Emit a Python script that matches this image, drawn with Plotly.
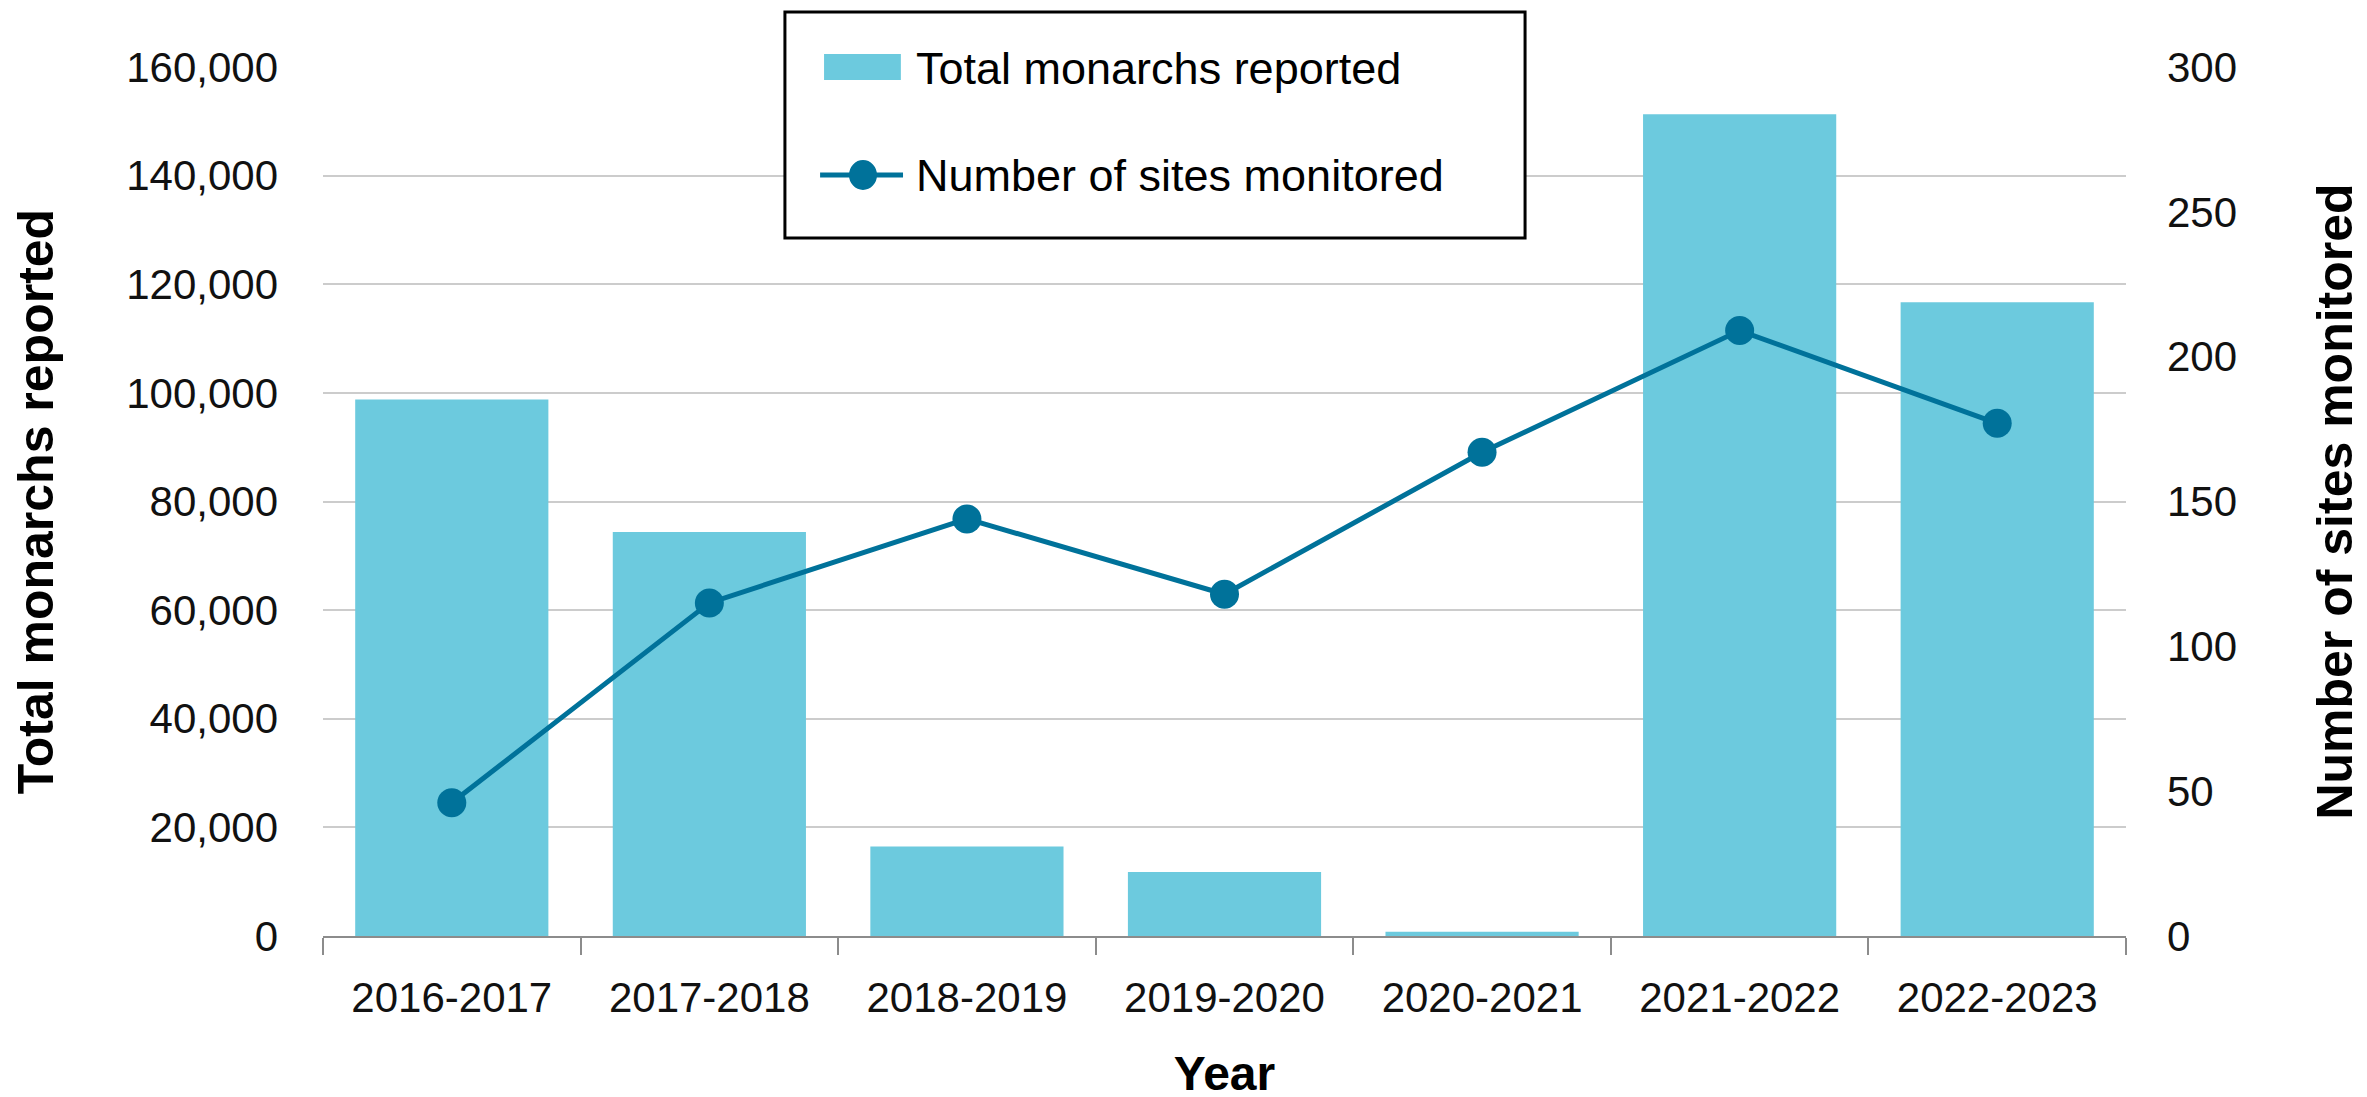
import plotly.graph_objects as go

# ------ data ------ #
years = ['2016-2017', '2017-2018', '2018-2019', '2019-2020', '2020-2021', '2021-2022', '2022-2023']
monarchs = [98800, 74400, 16500, 11800, 800, 151300, 116700]
sites = [46, 115, 144, 118, 167, 209, 177]

bar_name = 'Total monarchs reported'
line_name = 'Number of sites monitored'

bar_color = '#6ccade'
line_color = '#00729a'
font_family = 'Liberation Sans, Arial, sans-serif'

fig = go.Figure()
fig.add_trace(go.Bar(x=years, y=monarchs, name=bar_name,
                     marker=dict(color=bar_color, line=dict(width=0))))
fig.add_trace(go.Scatter(x=years, y=sites, name=line_name, yaxis='y2',
                         mode='lines+markers',
                         line=dict(color=line_color, width=5),
                         marker=dict(color=line_color, size=29)))

fig.update_layout(
    width=2367, height=1097,
    margin={"l": 315, "r": 249, "t": 59, "b": 169},
    plot_bgcolor='white', paper_bgcolor='white',
    font=dict(family=font_family, size=42, color='#222222'),
    bargap=0.25,
    showlegend=False,
)

# ------ legend box drawn by hand (plotly legend swatches are too small) ------ #
fig.add_shape(type='rect', xref='paper', yref='paper', x0=0.2562, x1=0.6667, y0=0.8032, y1=1.0633,
              line=dict(color='black', width=3), fillcolor='white', layer='above')
fig.add_shape(type='rect', xref='paper', yref='paper', x0=0.2779, x1=0.3205, y0=0.9850, y1=1.0150,
              line=dict(width=0), fillcolor=bar_color, layer='above')
fig.add_shape(type='line', xref='paper', yref='paper', x0=0.2757, x1=0.3217, y0=0.8757, y1=0.8757,
              line=dict(color=line_color, width=5), layer='above')
fig.add_shape(type='circle', xref='paper', yref='paper', xsizemode='pixel', ysizemode='pixel',
              xanchor=0.2995, yanchor=0.8757, x0=-14, x1=14, y0=-15, y1=15,
              line=dict(width=0), fillcolor=line_color, layer='above')
fig.add_annotation(xref='paper', yref='paper', x=0.3278, y=0.9988, xanchor='left', yanchor='middle',
                   text=bar_name, showarrow=False, font=dict(size=45, color='black'))
fig.add_annotation(xref='paper', yref='paper', x=0.3278, y=0.8757, xanchor='left', yanchor='middle',
                   text=line_name, showarrow=False, font=dict(size=45, color='black'))

fig.update_xaxes(type='category', showline=True, linecolor='#8c8c8c', linewidth=2,
                 ticks='outside', tickson='boundaries', ticklen=17, tickwidth=2, tickcolor='#8c8c8c',
                 ticklabelstandoff=24,
                 tickfont=dict(size=42, color='#111111'),
                 title=dict(text='<b>Year</b>', font=dict(size=48, color='black'), standoff=36),
                 automargin=False)

fig.update_layout(
    yaxis=dict(range=[0, 160000], dtick=20000, tickformat=',', showgrid=True,
               gridcolor='#cccccc', gridwidth=2, zeroline=False, showline=False,
               ticks='', ticklabelstandoff=44,
               tickfont=dict(size=42, color='#111111'),
               title=dict(text='<b>Total monarchs reported</b>', font=dict(size=50, color='black'),
                          standoff=66),
               automargin=False),
    yaxis2=dict(range=[0, 300], dtick=50, overlaying='y', side='right', showgrid=False,
                zeroline=False, showline=False, ticks='', ticklabelstandoff=40,
                tickfont=dict(size=42, color='#111111'),
                title=dict(text='<b>Number of sites monitored</b>', font=dict(size=50, color='black'),
                           standoff=80),
                automargin=False),
)

fig.write_html("out.html")
